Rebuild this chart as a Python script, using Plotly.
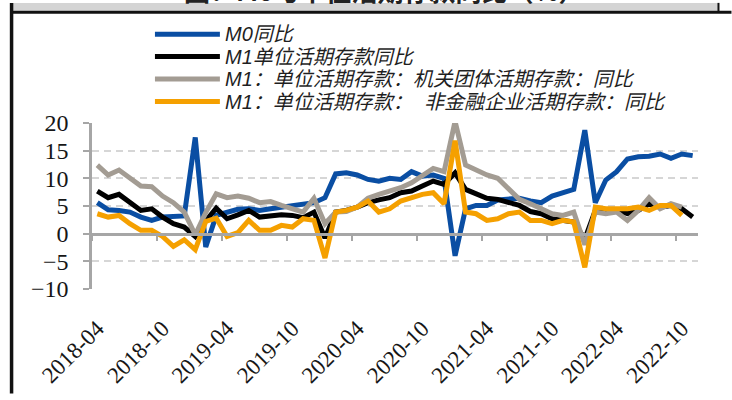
import plotly.graph_objects as go
import pandas as pd

# ---------------- data ----------------
MONTHS = [str(p) for p in pd.period_range("2018-04", "2022-11", freq="M")]
TICK_LABELS = ["2018-04", "2018-10", "2019-04", "2019-10", "2020-04",
               "2020-10", "2021-04", "2021-10", "2022-04", "2022-10"]

SERIES_NAMES = ["M0同比", "M1单位活期存款同比",
                "M1：单位活期存款：机关团体活期存款：同比",
                "M1：单位活期存款：\u00a0\u00a0非金融企业活期存款：同比"]

m0 = [5.6, 4.3, 4.2, 3.9, 3.0, 2.4, 3.0, 3.0, 3.2, 17.4, -2.4, 3.3,
      3.9, 4.4, 4.5, 4.2, 4.5, 4.8, 4.9, 5.2, 5.6, 6.5, 10.8, 11.0,
      10.6, 9.8, 9.5, 10.0, 9.8, 11.2, 10.4, 10.6, 10.0, -4.0, 4.5, 5.1,
      5.1, 6.1, 6.2, 6.4, 5.9, 5.6, 6.8, 7.4, 8.0, 18.7, 5.6, 9.7,
      11.2, 13.5, 13.9, 14.0, 14.4, 13.6, 14.4, 14.1]
m1_unit = [7.7, 6.5, 7.1, 5.6, 4.2, 4.5, 3.0, 1.8, 1.2, -0.5, 2.3, 4.6,
           2.7, 3.4, 4.2, 3.0, 3.2, 3.4, 3.3, 2.9, 3.9, -0.8, 3.9, 4.2,
           4.8, 5.6, 6.1, 6.5, 7.4, 7.7, 8.6, 9.5, 8.9, 11.0, 8.0, 7.1,
           6.4, 6.2, 5.6, 5.1, 4.0, 3.6, 2.7, 2.4, 2.1, -1.0, 4.2, 3.9,
           4.2, 3.6, 4.2, 5.4, 4.8, 5.1, 4.5, 3.0]
m1_gov = [12.4, 10.6, 11.5, 10.0, 8.6, 8.5, 6.8, 5.6, 3.9, -0.2, 3.8, 7.2,
          6.5, 6.8, 6.4, 5.6, 5.8, 5.1, 4.5, 3.9, 6.4, 1.8, 3.9, 4.0,
          4.8, 6.4, 7.1, 7.7, 8.3, 9.2, 10.4, 11.8, 11.2, 20.3, 12.4, 11.5,
          10.6, 10.0, 8.0, 6.2, 5.4, 4.5, 3.6, 3.3, 3.9, -2.0, 3.9, 3.6,
          3.9, 2.4, 4.2, 6.5, 4.5, 5.4, 4.8]
m1_corp = [3.6, 3.0, 3.3, 1.8, 0.6, 0.6, -0.5, -2.3, -1.1, -2.9, 2.2, 2.8,
           -0.5, 0.2, 2.4, 0.6, 0.6, 1.5, 1.2, 2.7, 2.4, -4.4, 3.9, 4.2,
           4.8, 5.9, 3.9, 4.5, 5.9, 6.5, 7.1, 7.4, 5.4, 16.8, 3.9, 3.6,
           2.4, 2.7, 3.6, 3.9, 2.4, 2.4, 1.8, 2.4, 2.1, -6.1, 4.8, 4.5,
           4.4, 4.5, 4.8, 4.2, 5.1, 5.1, 3.3]

COLORS = ["#0a4ea3", "#000000", "#a39c93", "#f5a000"]

# ---------------- helpers ----------------
W, H = 732, 400
PL, PR, PT, PB = 92, 698.5, 123, 293   # plot area in px


def px(x):
    return (x - PL) / (PR - PL)


def py(y):
    return (PB - y) / (PB - PT)


def mid(m):
    p = pd.Period(m, "M")
    return p.start_time + (p.end_time - p.start_time) / 2


def start(m):
    return pd.Period(m, "M").start_time


xs = [mid(m) for m in MONTHS]

fig = go.Figure()
for vals, name, col in zip([m0, m1_unit, m1_gov, m1_corp], SERIES_NAMES, COLORS):
    fig.add_trace(go.Scatter(x=xs[:len(vals)], y=vals, mode="lines", name=name,
                             line=dict(color=col, width=5),
                             showlegend=False, hoverinfo="skip"))

# dummy trace so the zero-line axis is drawn
fig.add_trace(go.Scatter(x=[xs[0]], y=[None], xaxis="x2", yaxis="y",
                         showlegend=False, hoverinfo="skip"))

x_range = [start("2018-04"), start("2022-12")]
AX = "#a6a6a6"
SERIF = "Liberation Serif, DejaVu Serif, serif"

fig.update_layout(
    width=W, height=H,
    margin=dict(l=PL, r=W - PR, t=PT, b=H - PB, pad=0),
    paper_bgcolor="white", plot_bgcolor="white",
    xaxis=dict(type="date", range=x_range,
               tickmode="array", tickvals=[mid(t) for t in TICK_LABELS],
               ticktext=TICK_LABELS, tickangle=-45,
               ticks="outside", ticklen=16, tickcolor="rgba(0,0,0,0)",
               showline=False, showgrid=False, zeroline=False,
               tickfont=dict(family=SERIF, size=23, color="#161616")),
    xaxis2=dict(type="date", range=x_range, overlaying="x", anchor="free",
                position=1 / 3, tickmode="array",
                tickvals=[start(t) for t in TICK_LABELS],
                ticks="outside", ticklen=6, tickwidth=2, tickcolor=AX,
                showline=True, linecolor=AX, linewidth=2.5,
                showticklabels=False, showgrid=False, zeroline=False),
    yaxis=dict(range=[-10, 20], tickmode="array",
               tickvals=[-10, -5, 0, 5, 10, 15, 20],
               ticks="outside", ticklen=6, tickwidth=2, tickcolor=AX,
               showline=True, linecolor=AX, linewidth=2.5,
               showgrid=True, gridcolor="#d6d6d6", gridwidth=1.5,
               griddash="7px,5px", zeroline=False,
               ticklabelstandoff=10,
               tickfont=dict(family=SERIF, size=24, color="#161616")),
)

shapes = [
    # top grey band and frame lines
    dict(type="rect", xref="paper", yref="paper", x0=px(13), x1=px(719),
         y0=py(0), y1=py(8), fillcolor="#d4d4d4", line=dict(width=0)),
    dict(type="line", xref="paper", yref="paper", x0=px(10), x1=px(732),
         y0=py(9.5), y1=py(9.5), line=dict(color="#111111", width=3)),
    dict(type="line", xref="paper", yref="paper", x0=px(11.5), x1=px(11.5),
         y0=py(0), y1=py(400), line=dict(color="#111111", width=3.5)),
    dict(type="line", xref="paper", yref="paper", x0=px(719), x1=px(719),
         y0=py(0), y1=py(9.5), line=dict(color="#111111", width=2)),
]
annotations = [
    dict(text="<b>图：M0与单位活期存款同比（%）</b>", xref="paper", yref="paper",
         x=px(385), y=py(7), xanchor="center", yanchor="bottom", showarrow=False,
         font=dict(family="Noto Sans CJK SC", size=26, color="#222222")),
]

LEG_Y = [32, 55, 78, 101]
for name, col, yy in zip(SERIES_NAMES, COLORS, LEG_Y):
    shapes.append(dict(type="line", xref="paper", yref="paper",
                       x0=px(155), x1=px(220), y0=py(yy), y1=py(yy),
                       line=dict(color=col, width=5)))
    annotations.append(dict(text=name, xref="paper", yref="paper",
                            x=px(223), y=py(yy), xanchor="left", yanchor="middle",
                            showarrow=False,
                            font=dict(family="Liberation Sans, Noto Sans CJK SC",
                                      size=20, color="#1f1f1f", style="italic")))

fig.update_layout(shapes=shapes, annotations=annotations)

fig.write_html("out.html", config={"displayModeBar": False},
               post_script="document.body.style.margin='0';")
